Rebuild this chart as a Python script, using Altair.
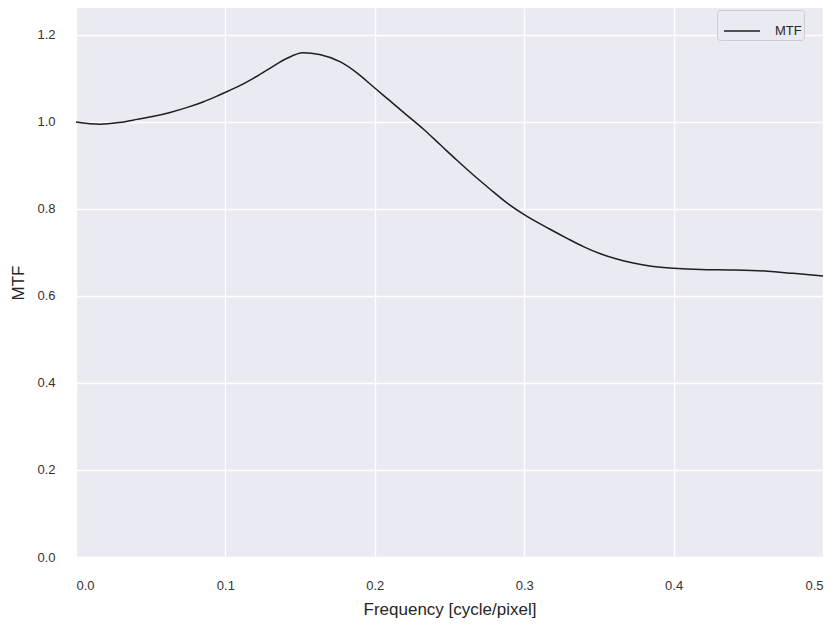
import altair as alt
import pandas as pd

freq = [0.0, 0.016, 0.029, 0.041, 0.052, 0.063, 0.074, 0.085, 0.096, 0.1076,
        0.119, 0.130, 0.141, 0.152, 0.163, 0.177, 0.188, 0.2, 0.210, 0.221,
        0.233, 0.244, 0.255, 0.266, 0.277, 0.288, 0.3, 0.317, 0.329, 0.340,
        0.351, 0.362, 0.373, 0.384, 0.4, 0.418, 0.440, 0.463, 0.480, 0.5]
mtf = [1.0, 0.995, 0.999, 1.006, 1.013, 1.022, 1.033, 1.046, 1.062, 1.080,
       1.101, 1.124, 1.146, 1.159, 1.155, 1.138, 1.113, 1.078, 1.049, 1.017,
       0.982, 0.947, 0.912, 0.878, 0.846, 0.815, 0.787, 0.754, 0.732, 0.713,
       0.697, 0.685, 0.676, 0.669, 0.664, 0.661, 0.660, 0.657, 0.652, 0.646]
series = ["MTF"] * len(freq)

x_ticks = [0.0, 0.1, 0.2, 0.3, 0.4, 0.5]
y_ticks = [0.0, 0.2, 0.4, 0.6, 0.8, 1.0, 1.2]

df = pd.DataFrame({"freq": freq, "mtf": mtf, "series": series})

FONT = "Liberation Sans"

chart = alt.Chart(df).mark_line(strokeWidth=1.5, interpolate="monotone").encode(
    x=alt.X("freq:Q", scale=alt.Scale(domain=[0, 0.5], nice=False, zero=False),
            axis=alt.Axis(values=x_ticks, format=".1f", title="Frequency [cycle/pixel]",
                          labelPadding=22, titlePadding=9)),
    y=alt.Y("mtf:Q", scale=alt.Scale(domain=[0, 1.262], nice=False),
            axis=alt.Axis(values=y_ticks, format=".1f", title="MTF",
                          labelPadding=21, titlePadding=9)),
    color=alt.Color("series:N", scale=alt.Scale(range=["#1e1e1e"]),
                    legend=alt.Legend(title=None, orient="none", legendX=641, legendY=2,
                                      symbolType="stroke", symbolSize=1296,
                                      symbolStrokeWidth=1.5, symbolOffset=4,
                                      labelFontSize=13, labelFont=FONT,
                                      labelColor="#262626",
                                      labelExpr="datum.label + '\u00a0\u00a0\u00a0'",
                                      fillColor="#EAEAF2", strokeColor="#CCCCCC",
                                      cornerRadius=3, padding=2, labelOffset=14)),
).properties(
    width=747, height=549,
    autosize=alt.AutoSizeParams(type="none"),
    padding={"left": 68, "top": 0, "right": 6, "bottom": 70},
).configure_view(
    fill="#EAEAF2", stroke=None
).configure_axis(
    grid=True, gridColor="white", gridWidth=1.3, domain=False, ticks=False,
    labelFont=FONT, labelFontSize=13, labelColor="#333333",
    titleFont=FONT, titleFontSize=17, titleColor="#262626", titleFontWeight="normal",
)

chart.save("out.html", embed_options={"renderer": "svg", "actions": False})
